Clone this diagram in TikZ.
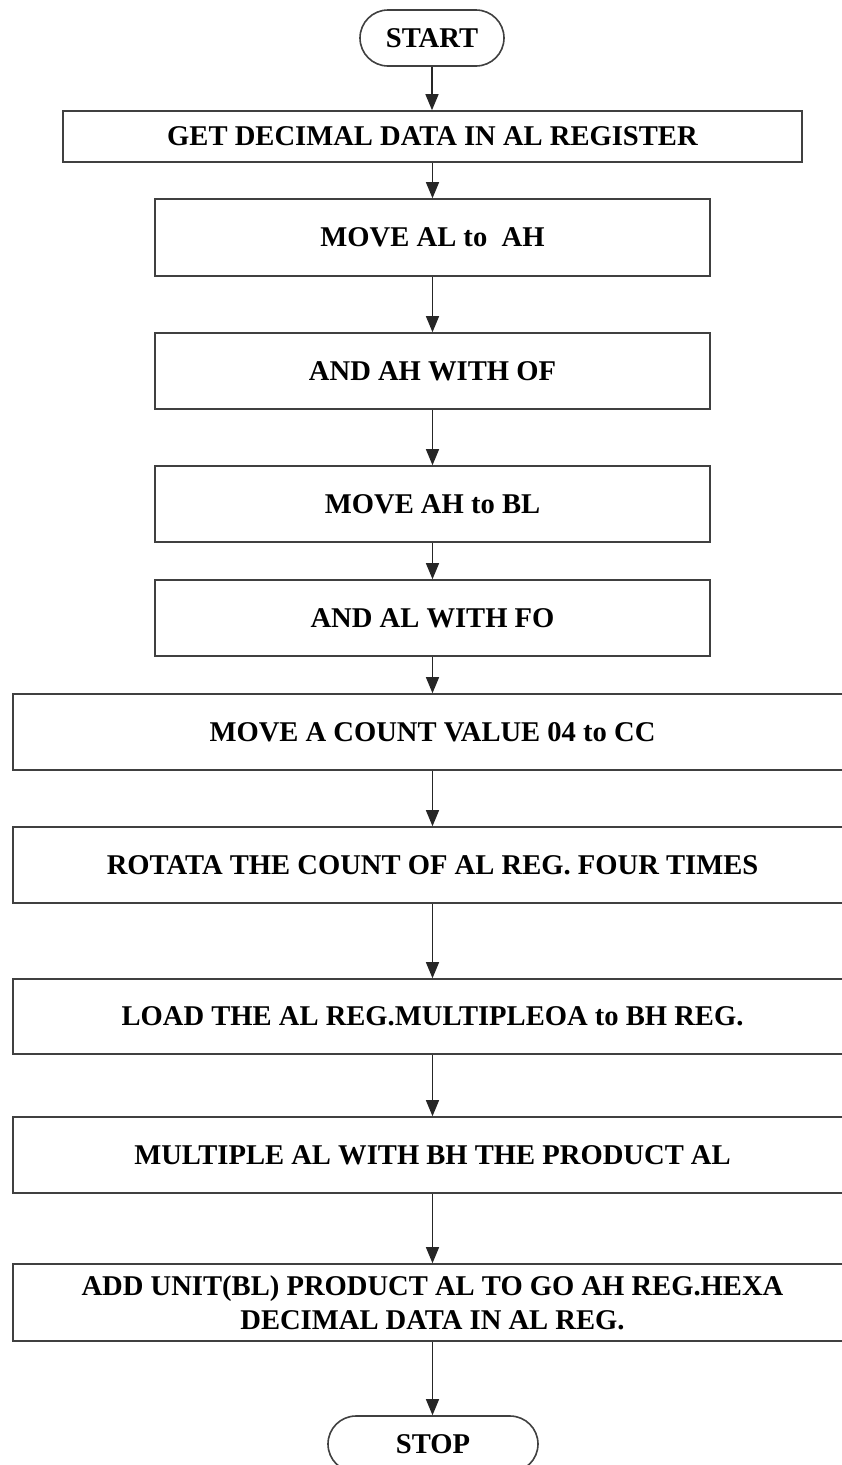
\documentclass[tikz,border=0pt]{standalone}
\usepackage{fontspec}
\setmainfont{Liberation Serif}
\usetikzlibrary{shapes.misc,arrows.meta}
\begin{document}
\begin{tikzpicture}[x=1pt,y=-1pt,
  every node/.style={font=\fontsize{28.6}{34}\selectfont\bfseries, text=black, inner sep=0pt},
  stepbox/.style={draw=black!75, line width=1.6pt, rectangle, minimum width=#1, align=center},
  stepbox/.default=555pt,
  terminal/.style={draw=black!75, line width=1.6pt, rounded rectangle, rounded rectangle arc length=180, minimum height=56pt},
  flow/.style={draw=black!85, line width=1.3pt, -{Triangle[length=16pt,width=13pt]}}
]
\useasboundingbox (0,0) rectangle (842,1465);
\clip (0,0) rectangle (842,1465);
\fill[white] (0,0) rectangle (842,1465);

\node[terminal, minimum width=144pt] (start) at (432,38) {START};
\node[stepbox=739pt, minimum height=51pt] (b1) at (432.5,136.5) {GET DECIMAL DATA IN AL REGISTER};
\node[stepbox, minimum height=77pt] (b2) at (432.5,237.5) {MOVE AL to \ AH};
\node[stepbox, minimum height=76pt] (b3) at (432.5,371) {AND AH WITH OF};
\node[stepbox, minimum height=76pt] (b4) at (432.5,504) {MOVE AH to BL};
\node[stepbox, minimum height=76pt] (b5) at (432.5,618) {AND AL WITH FO};
\node[stepbox=839pt, minimum height=76pt] (b6) at (432.5,732) {MOVE A COUNT VALUE 04 to CC};
\node[stepbox=839pt, minimum height=76pt] (b7) at (432.5,865) {ROTATA THE COUNT OF AL REG. FOUR TIMES};
\node[stepbox=839pt, minimum height=75pt] (b8) at (432.5,1016.5) {LOAD THE AL REG.MULTIPLEOA to BH REG.};
\node[stepbox=839pt, minimum height=76pt] (b9) at (432.5,1155) {MULTIPLE AL WITH BH THE PRODUCT AL};
\node[stepbox=839pt, minimum height=77pt] (b10) at (432.5,1302.5) {ADD UNIT(BL) PRODUCT AL TO GO AH REG.HEXA\\DECIMAL DATA IN AL REG.};
\node[terminal, minimum width=210pt] (stop) at (433,1444) {STOP};

\draw[flow] (start.south) -- (start.south |- b1.north);
\draw[flow] (b1.south) -- (b1.south |- b2.north);
\draw[flow] (b2.south) -- (b2.south |- b3.north);
\draw[flow] (b3.south) -- (b3.south |- b4.north);
\draw[flow] (b4.south) -- (b4.south |- b5.north);
\draw[flow] (b5.south) -- (b5.south |- b6.north);
\draw[flow] (b6.south) -- (b6.south |- b7.north);
\draw[flow] (b7.south) -- (b7.south |- b8.north);
\draw[flow] (b8.south) -- (b8.south |- b9.north);
\draw[flow] (b9.south) -- (b9.south |- b10.north);
\draw[flow] (b10.south) -- (b10.south |- stop.north);
\end{tikzpicture}
\end{document}
